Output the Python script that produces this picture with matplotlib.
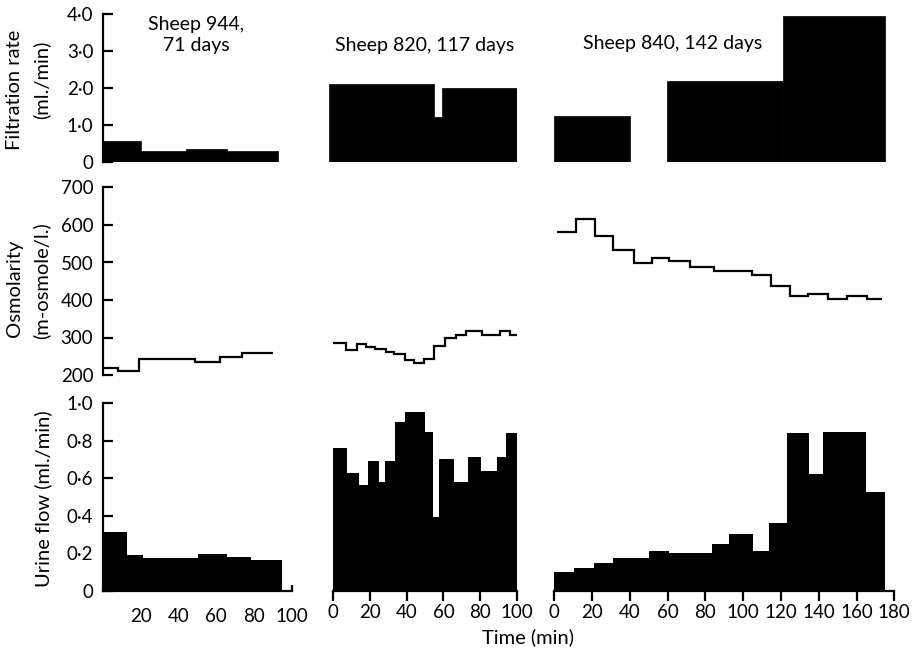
import matplotlib
matplotlib.use('Agg')
import matplotlib.pyplot as plt

plt.rcParams['font.family'] = ['Lato', 'DejaVu Sans']

# ---- datos (tiempo en min) ----
# Filtration rate (ml./min): bloques (inicio, fin, valor)
filt_944_start = [0, 20, 44, 66]
filt_944_end = [20, 44, 66, 93]
filt_944 = [0.57, 0.30, 0.34, 0.30]

filt_820_start = [-2, 55, 59]
filt_820_end = [55, 59, 101]
filt_820 = [2.10, 1.22, 2.00]

filt_840_start = [0, 59.5, 121]
filt_840_end = [40, 121, 175]
filt_840 = [1.25, 2.20, 3.95]

# Osmolarity (m-osmole/l.): bordes de los escalones y valores
osm_944_edges = [0, 8, 19, 49, 62, 74, 90]
osm_944 = [218, 211, 243, 235, 249, 259]

osm_820_edges = [0, 7.2, 13, 17.9, 22.9, 28.7, 33.2, 39.2, 44.2, 49.6, 55,
                 60.7, 66.6, 72.2, 80.7, 90.6, 96, 101]
osm_820 = [285, 266, 283, 276, 270, 261, 255, 241, 231, 243, 278, 299, 308,
           318, 307, 318, 307]

osm_840_edges = [1.6, 11.3, 21.5, 31.2, 42.4, 51.6, 60.9, 71.8, 84.5, 104.5,
                 114.7, 124.8, 134.5, 145, 155.1, 165.4, 173.6]
osm_840 = [582, 616, 571, 533, 499, 511, 505, 487, 478, 467, 437, 411, 416,
           402, 411, 402]

# Urine flow (ml./min)
urine_944_edges = [0, 12.9, 21.2, 50.3, 65.6, 78.7, 95.2]
urine_944 = [0.315, 0.19, 0.177, 0.195, 0.179, 0.163]

urine_820_edges = [0, 7.6, 14.2, 18.9, 25.1, 28.3, 33.6, 39.2, 50, 54.2, 57.6,
                   65.9, 73.1, 80.2, 89.2, 93.7, 100]
urine_820 = [0.76, 0.626, 0.564, 0.69, 0.578, 0.69, 0.897, 0.954, 0.847,
             0.395, 0.70, 0.578, 0.714, 0.64, 0.714, 0.839]

urine_840_edges = [0, 10.4, 21.2, 30.9, 50.1, 60.9, 83.6, 92.6, 105, 113.8,
                   123.3, 135, 142.4, 165, 175.2]
urine_840 = [0.103, 0.12, 0.15, 0.177, 0.214, 0.204, 0.248, 0.303, 0.214,
             0.363, 0.839, 0.62, 0.847, 0.528]

titulos = ['Sheep 944,\n71 days', 'Sheep 820, 117 days', 'Sheep 840, 142 days']

W, H = 922, 652
fig = plt.figure(figsize=(W / 100, H / 100), dpi=100)


def caja(x0, x1, y_top, y_bot):
    # convierte pixeles a fracciones de la figura
    return [x0 / W, 1 - y_bot / H, (x1 - x0) / W, (y_bot - y_top) / H]


# posiciones horizontales de las columnas (pixeles)
col_px = [(103, 291.5, 0, 100), (327.2, 517.3, -3, 100), (554.3, 894.3, 0, 180)]
fila_px = [(14, 162), (187.5, 375), (403, 591)]

filt = [(filt_944_start, filt_944_end, filt_944),
        (filt_820_start, filt_820_end, filt_820),
        (filt_840_start, filt_840_end, filt_840)]
osm = [(osm_944_edges, osm_944), (osm_820_edges, osm_820), (osm_840_edges, osm_840)]
urine = [(urine_944_edges, urine_944), (urine_820_edges, urine_820),
         (urine_840_edges, urine_840)]

tick_fs = 13.5
for c in range(3):
    x0, x1, t0, t1 = col_px[c]
    xmax = 180 if c == 2 else 100
    for r in range(3):
        yt, yb = fila_px[r]
        ax = fig.add_axes(caja(x0, x1, yt, yb))
        ax.set_xlim(t0, t1)
        for s in ['top', 'right']:
            ax.spines[s].set_visible(False)
        if r == 0:
            st, en, v = filt[c]
            ax.bar(st, v, width=[e - s for s, e in zip(st, en)], align='edge',
                   color='black', edgecolor='black', linewidth=0.5)
            ax.set_ylim(0, 4.0)
            ax.set_yticks([0, 1, 2, 3, 4])
            ax.set_yticklabels(['0', '1·0', '2·0', '3·0', '4·0'])
        elif r == 1:
            ed, v = osm[c]
            ax.stairs(v, ed, baseline=None, color='black', linewidth=1.6)
            ax.set_ylim(200, 700)
            ax.set_yticks([200, 300, 400, 500, 600, 700])
        else:
            ed, v = urine[c]
            ax.stairs(v, ed, fill=True, color='black')
            ax.set_ylim(0, 1.0)
            ax.set_yticks([0, 0.2, 0.4, 0.6, 0.8, 1.0])
            ax.set_yticklabels(['0', '0·2', '0·4', '0·6', '0·8', '1·0'])

        if c == 0:
            ax.spines['left'].set_linewidth(1.6)
            ax.tick_params(axis='y', direction='in', length=7, width=1.6,
                           labelsize=tick_fs, pad=7)
        else:
            ax.spines['left'].set_visible(False)
            ax.set_yticks([])

        if r == 2:
            ax.spines['bottom'].set_linewidth(1.6)
            ax.spines['bottom'].set_bounds(0, xmax)
            if c == 0:
                ax.set_xticks([20, 40, 60, 80, 100])
                ax.tick_params(axis='x', direction='in', length=4, width=1.6,
                               labelsize=tick_fs, pad=12)
            else:
                ax.set_xticks(list(range(0, xmax + 1, 20)))
                ax.tick_params(axis='x', direction='out', length=7, width=1.6,
                               labelsize=tick_fs, pad=2)
        else:
            ax.spines['bottom'].set_visible(False)
            ax.set_xticks([])
        ax.patch.set_alpha(0)

# titulos de cada oveja
fig.text(196.5 / W, 1 - 35 / H, titulos[0], ha='center', va='center',
         fontsize=14, linespacing=1.25)
fig.text(425 / W, 1 - 45 / H, titulos[1], ha='center', va='center', fontsize=14)
fig.text(673 / W, 1 - 44 / H, titulos[2], ha='center', va='center', fontsize=14)

# etiquetas de los ejes
lab_fs = 14.5
fig.text(15 / W, 1 - 90 / H, 'Filtration rate', rotation=90, ha='center',
         va='center', fontsize=lab_fs)
fig.text(41 / W, 1 - 80 / H, '(ml./min)', rotation=90, ha='center',
         va='center', fontsize=lab_fs)
fig.text(15 / W, 1 - 288 / H, 'Osmolarity', rotation=90, ha='center',
         va='center', fontsize=lab_fs)
fig.text(41 / W, 1 - 281 / H, '(m-osmole/l.)', rotation=90, ha='center',
         va='center', fontsize=lab_fs)
fig.text(43 / W, 1 - 499 / H, 'Urine flow (ml./min)', rotation=90,
         ha='center', va='center', fontsize=lab_fs)
fig.text(528 / W, 1 - 637 / H, 'Time (min)', ha='center', va='center',
         fontsize=lab_fs)

fig.savefig('out.png', dpi=100)
